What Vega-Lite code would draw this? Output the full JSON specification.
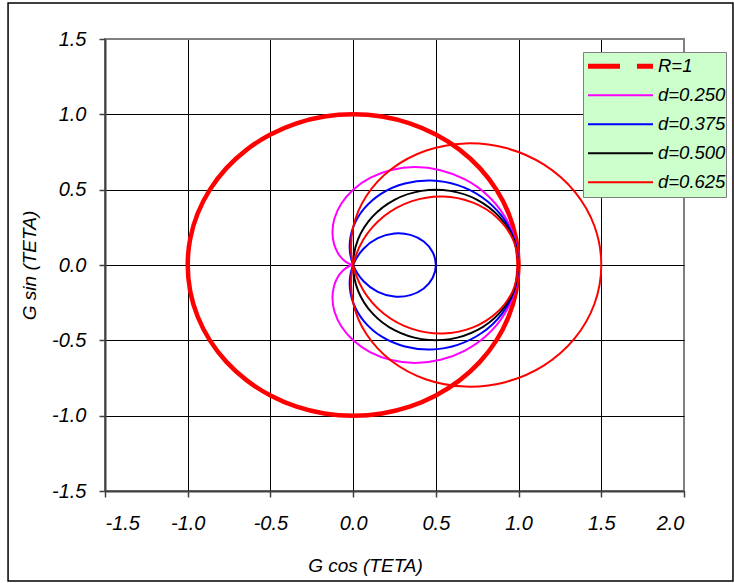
{
  "$schema": "https://vega.github.io/schema/vega-lite/v6.json",
  "width": 579,
  "height": 452,
  "autosize": {"type": "none"},
  "padding": {"left": 105, "top": 39, "right": 50, "bottom": 92},
  "background": "white",
  "config": {
    "font": "Liberation Sans",
    "view": {"stroke": "#808080", "strokeWidth": 2},
    "axis": {
      "grid": true,
      "domainColor": "#404040",
      "domainWidth": 2,
      "tickColor": "#404040",
      "tickWidth": 1.5,
      "tickSize": 6,
      "gridColor": "black",
      "gridWidth": 1,
      "gridOpacity": 1,
      "labelFont": "Liberation Sans",
      "labelFontSize": 20,
      "labelFontStyle": "italic",
      "labelColor": "black",
      "titleFont": "Liberation Sans",
      "titleFontSize": 19,
      "titleFontStyle": "italic",
      "titleFontWeight": "normal",
      "titleColor": "black"
    }
  },
  "layer": [
    {
      "data": {"values": [{}]},
      "mark": {"type": "rect", "fill": null, "stroke": "black", "strokeWidth": 1.5, "clip": false},
      "encoding": {
        "x": {"datum": -2.086, "type": "quantitative"},
        "x2": {"datum": 2.296},
        "y": {"datum": 1.739, "type": "quantitative"},
        "y2": {"datum": -2.097}
      }
    },
    {
      "data": {
        "values": [
          {"s":"R=1","t":0,"x":1,"y":0},{"s":"R=1","t":1,"x":0.985,"y":0.174},{"s":"R=1","t":2,"x":0.94,"y":0.342},{"s":"R=1","t":3,"x":0.866,"y":0.5},{"s":"R=1","t":4,"x":0.766,"y":0.643},{"s":"R=1","t":5,"x":0.643,"y":0.766},{"s":"R=1","t":6,"x":0.5,"y":0.866},{"s":"R=1","t":7,"x":0.342,"y":0.94},{"s":"R=1","t":8,"x":0.174,"y":0.985},{"s":"R=1","t":9,"x":0,"y":1},{"s":"R=1","t":10,"x":-0.174,"y":0.985},{"s":"R=1","t":11,"x":-0.342,"y":0.94},{"s":"R=1","t":12,"x":-0.5,"y":0.866},{"s":"R=1","t":13,"x":-0.643,"y":0.766},{"s":"R=1","t":14,"x":-0.766,"y":0.643},{"s":"R=1","t":15,"x":-0.866,"y":0.5},{"s":"R=1","t":16,"x":-0.94,"y":0.342},{"s":"R=1","t":17,"x":-0.985,"y":0.174},{"s":"R=1","t":18,"x":-1,"y":0},{"s":"R=1","t":19,"x":-0.985,"y":-0.174},{"s":"R=1","t":20,"x":-0.94,"y":-0.342},{"s":"R=1","t":21,"x":-0.866,"y":-0.5},{"s":"R=1","t":22,"x":-0.766,"y":-0.643},{"s":"R=1","t":23,"x":-0.643,"y":-0.766},{"s":"R=1","t":24,"x":-0.5,"y":-0.866},{"s":"R=1","t":25,"x":-0.342,"y":-0.94},{"s":"R=1","t":26,"x":-0.174,"y":-0.985},{"s":"R=1","t":27,"x":0,"y":-1},{"s":"R=1","t":28,"x":0.174,"y":-0.985},{"s":"R=1","t":29,"x":0.342,"y":-0.94},{"s":"R=1","t":30,"x":0.5,"y":-0.866},{"s":"R=1","t":31,"x":0.643,"y":-0.766},{"s":"R=1","t":32,"x":0.766,"y":-0.643},{"s":"R=1","t":33,"x":0.866,"y":-0.5},{"s":"R=1","t":34,"x":0.94,"y":-0.342},{"s":"R=1","t":35,"x":0.985,"y":-0.174},{"s":"R=1","t":36,"x":1,"y":0},

          {"s":"d=0.250","t":0,"x":1,"y":0},{"s":"d=0.250","t":1,"x":0.977,"y":0.172},{"s":"d=0.250","t":2,"x":0.911,"y":0.332},{"s":"d=0.250","t":3,"x":0.808,"y":0.467},{"s":"d=0.250","t":4,"x":0.676,"y":0.568},{"s":"d=0.250","t":5,"x":0.528,"y":0.629},{"s":"d=0.250","t":6,"x":0.375,"y":0.65},{"s":"d=0.250","t":7,"x":0.23,"y":0.631},{"s":"d=0.250","t":8,"x":0.102,"y":0.578},{"s":"d=0.250","t":9,"x":0,"y":0.5},{"s":"d=0.250","t":10,"x":-0.072,"y":0.407},{"s":"d=0.250","t":11,"x":-0.113,"y":0.309},{"s":"d=0.250","t":12,"x":-0.125,"y":0.217},{"s":"d=0.250","t":13,"x":-0.115,"y":0.137},{"s":"d=0.250","t":14,"x":-0.09,"y":0.075},{"s":"d=0.250","t":15,"x":-0.058,"y":0.033},{"s":"d=0.250","t":16,"x":-0.028,"y":0.01},{"s":"d=0.250","t":17,"x":-0.007,"y":0.001},{"s":"d=0.250","t":18,"x":0,"y":0},{"s":"d=0.250","t":19,"x":-0.007,"y":-0.001},{"s":"d=0.250","t":20,"x":-0.028,"y":-0.01},{"s":"d=0.250","t":21,"x":-0.058,"y":-0.033},{"s":"d=0.250","t":22,"x":-0.09,"y":-0.075},{"s":"d=0.250","t":23,"x":-0.115,"y":-0.137},{"s":"d=0.250","t":24,"x":-0.125,"y":-0.217},{"s":"d=0.250","t":25,"x":-0.113,"y":-0.309},{"s":"d=0.250","t":26,"x":-0.072,"y":-0.407},{"s":"d=0.250","t":27,"x":0,"y":-0.5},{"s":"d=0.250","t":28,"x":0.102,"y":-0.578},{"s":"d=0.250","t":29,"x":0.23,"y":-0.631},{"s":"d=0.250","t":30,"x":0.375,"y":-0.65},{"s":"d=0.250","t":31,"x":0.528,"y":-0.629},{"s":"d=0.250","t":32,"x":0.676,"y":-0.568},{"s":"d=0.250","t":33,"x":0.808,"y":-0.467},{"s":"d=0.250","t":34,"x":0.911,"y":-0.332},{"s":"d=0.250","t":35,"x":0.977,"y":-0.172},{"s":"d=0.250","t":36,"x":1,"y":0},

          {"s":"d=0.375","t":0,"x":1,"y":0},{"s":"d=0.375","t":1,"x":0.974,"y":0.172},{"s":"d=0.375","t":2,"x":0.897,"y":0.327},{"s":"d=0.375","t":3,"x":0.779,"y":0.45},{"s":"d=0.375","t":4,"x":0.632,"y":0.53},{"s":"d=0.375","t":5,"x":0.471,"y":0.561},{"s":"d=0.375","t":6,"x":0.313,"y":0.541},{"s":"d=0.375","t":7,"x":0.173,"y":0.476},{"s":"d=0.375","t":8,"x":0.066,"y":0.374},{"s":"d=0.375","t":9,"x":0,"y":0.25},{"s":"d=0.375","t":10,"x":-0.021,"y":0.118},{"s":"d=0.375","t":11,"x":0.002,"y":-0.006},{"s":"d=0.375","t":12,"x":0.063,"y":-0.108},{"s":"d=0.375","t":13,"x":0.149,"y":-0.178},{"s":"d=0.375","t":14,"x":0.249,"y":-0.209},{"s":"d=0.375","t":15,"x":0.346,"y":-0.2},{"s":"d=0.375","t":16,"x":0.427,"y":-0.156},{"s":"d=0.375","t":17,"x":0.481,"y":-0.085},{"s":"d=0.375","t":18,"x":0.5,"y":0},{"s":"d=0.375","t":19,"x":0.481,"y":0.085},{"s":"d=0.375","t":20,"x":0.427,"y":0.156},{"s":"d=0.375","t":21,"x":0.346,"y":0.2},{"s":"d=0.375","t":22,"x":0.249,"y":0.209},{"s":"d=0.375","t":23,"x":0.149,"y":0.178},{"s":"d=0.375","t":24,"x":0.063,"y":0.108},{"s":"d=0.375","t":25,"x":0.002,"y":0.006},{"s":"d=0.375","t":26,"x":-0.021,"y":-0.118},{"s":"d=0.375","t":27,"x":0,"y":-0.25},{"s":"d=0.375","t":28,"x":0.066,"y":-0.374},{"s":"d=0.375","t":29,"x":0.173,"y":-0.476},{"s":"d=0.375","t":30,"x":0.313,"y":-0.541},{"s":"d=0.375","t":31,"x":0.471,"y":-0.561},{"s":"d=0.375","t":32,"x":0.632,"y":-0.53},{"s":"d=0.375","t":33,"x":0.779,"y":-0.45},{"s":"d=0.375","t":34,"x":0.897,"y":-0.327},{"s":"d=0.375","t":35,"x":0.974,"y":-0.172},{"s":"d=0.375","t":36,"x":1,"y":0},

          {"s":"d=0.500","t":0,"x":1,"y":0},{"s":"d=0.500","t":1,"x":0.97,"y":0.171},{"s":"d=0.500","t":2,"x":0.883,"y":0.321},{"s":"d=0.500","t":3,"x":0.75,"y":0.433},{"s":"d=0.500","t":4,"x":0.587,"y":0.492},{"s":"d=0.500","t":5,"x":0.413,"y":0.492},{"s":"d=0.500","t":6,"x":0.25,"y":0.433},{"s":"d=0.500","t":7,"x":0.117,"y":0.321},{"s":"d=0.500","t":8,"x":0.03,"y":0.171},{"s":"d=0.500","t":9,"x":0,"y":0},{"s":"d=0.500","t":10,"x":0.03,"y":-0.171},{"s":"d=0.500","t":11,"x":0.117,"y":-0.321},{"s":"d=0.500","t":12,"x":0.25,"y":-0.433},{"s":"d=0.500","t":13,"x":0.413,"y":-0.492},{"s":"d=0.500","t":14,"x":0.587,"y":-0.492},{"s":"d=0.500","t":15,"x":0.75,"y":-0.433},{"s":"d=0.500","t":16,"x":0.883,"y":-0.321},{"s":"d=0.500","t":17,"x":0.97,"y":-0.171},{"s":"d=0.500","t":18,"x":1,"y":0},

          {"s":"d=0.625","t":0,"x":1,"y":0},{"s":"d=0.625","t":1,"x":0.966,"y":0.17},{"s":"d=0.625","t":2,"x":0.869,"y":0.316},{"s":"d=0.625","t":3,"x":0.721,"y":0.416},{"s":"d=0.625","t":4,"x":0.542,"y":0.455},{"s":"d=0.625","t":5,"x":0.356,"y":0.424},{"s":"d=0.625","t":6,"x":0.188,"y":0.325},{"s":"d=0.625","t":7,"x":0.061,"y":0.167},{"s":"d=0.625","t":8,"x":-0.006,"y":-0.032},{"s":"d=0.625","t":9,"x":0,"y":-0.25},{"s":"d=0.625","t":10,"x":0.081,"y":-0.46},{"s":"d=0.625","t":11,"x":0.232,"y":-0.637},{"s":"d=0.625","t":12,"x":0.438,"y":-0.758},{"s":"d=0.625","t":13,"x":0.677,"y":-0.807},{"s":"d=0.625","t":14,"x":0.925,"y":-0.776},{"s":"d=0.625","t":15,"x":1.154,"y":-0.666},{"s":"d=0.625","t":16,"x":1.339,"y":-0.487},{"s":"d=0.625","t":17,"x":1.459,"y":-0.257},{"s":"d=0.625","t":18,"x":1.5,"y":0},{"s":"d=0.625","t":19,"x":1.459,"y":0.257},{"s":"d=0.625","t":20,"x":1.339,"y":0.487},{"s":"d=0.625","t":21,"x":1.154,"y":0.666},{"s":"d=0.625","t":22,"x":0.925,"y":0.776},{"s":"d=0.625","t":23,"x":0.677,"y":0.807},{"s":"d=0.625","t":24,"x":0.438,"y":0.758},{"s":"d=0.625","t":25,"x":0.232,"y":0.637},{"s":"d=0.625","t":26,"x":0.081,"y":0.46},{"s":"d=0.625","t":27,"x":0,"y":0.25},{"s":"d=0.625","t":28,"x":-0.006,"y":0.032},{"s":"d=0.625","t":29,"x":0.061,"y":-0.167},{"s":"d=0.625","t":30,"x":0.188,"y":-0.325},{"s":"d=0.625","t":31,"x":0.356,"y":-0.424},{"s":"d=0.625","t":32,"x":0.542,"y":-0.455},{"s":"d=0.625","t":33,"x":0.721,"y":-0.416},{"s":"d=0.625","t":34,"x":0.869,"y":-0.316},{"s":"d=0.625","t":35,"x":0.966,"y":-0.17},{"s":"d=0.625","t":36,"x":1,"y":0}
        ]
      },
      "mark": {"type": "line", "interpolate": "cardinal", "clip": false},
      "encoding": {
        "x": {
          "field": "x", "type": "quantitative",
          "scale": {"domain": [-1.5, 2], "nice": false, "zero": false},
          "axis": {
            "grid": true,
            "values": [-1.5, -1, -0.5, 0, 0.5, 1, 1.5, 2],
            "labelExpr": "replace(format(datum.value, '.1f'), '\u2212', '-')",
            "labelPadding": 16,
            "gridColor": {"condition": {"test": "datum.value === 2", "value": "#808080"}, "value": "black"},
            "title": "G cos (TETA)",
            "titleX": 260,
            "titleY": 80,
            "titleAlign": "center",
            "titleAnchor": null,
            "titleBaseline": "alphabetic"
          }
        },
        "y": {
          "field": "y", "type": "quantitative",
          "scale": {"domain": [-1.5, 1.5], "nice": false, "zero": false},
          "axis": {
            "grid": true,
            "values": [-1.5, -1, -0.5, 0, 0.5, 1, 1.5],
            "labelExpr": "replace(format(datum.value, '.1f'), '\u2212', '-')",
            "labelPadding": 13,
            "gridColor": {"condition": {"test": "datum.value === 1.5", "value": "#808080"}, "value": "black"},
            "title": "G sin (TETA)",
            "titleX": -70,
            "titleY": 226,
            "titleAngle": -90,
            "titleAlign": "center",
            "titleAnchor": null,
            "titleBaseline": "alphabetic"
          }
        },
        "color": {
          "field": "s", "type": "nominal",
          "scale": {
            "domain": ["R=1", "d=0.250", "d=0.375", "d=0.500", "d=0.625"],
            "range": ["#ff0000", "#ff00ff", "#0000ff", "#000000", "#ff0000"]
          },
          "legend": {
            "title": null,
            "orient": "none",
            "legendX": 478,
            "legendY": 13,
            "fillColor": "#ccffcc",
            "strokeColor": "#808080",
            "padding": 0,
            "symbolOffset": 5,
            "symbolType": "stroke",
            "symbolSize": 4225,
            "clipHeight": 28.7,
            "rowPadding": 0,
            "labelOffset": 5,
            "labelFont": "Liberation Sans",
            "labelFontSize": 18.5,
            "labelFontStyle": "italic",
            "labelColor": "black",
            "encode": {
              "symbols": {
                "update": {
                  "x": {"value": 37.5},
                  "strokeWidth": {"signal": "datum.value === 'R=1' ? 5 : 2"},
                  "strokeDash": {"signal": "datum.value === 'R=1' ? [32, 17] : [1, 0]"}
                }
              },
              "labels": {
                "update": {
                  "x": {"value": 75}
                }
              }
            }
          }
        },
        "strokeWidth": {
          "condition": {"test": "datum.s === 'R=1'", "value": 4.5},
          "value": 2
        },
        "order": {"field": "t", "type": "quantitative"}
      }
    }
  ]
}
